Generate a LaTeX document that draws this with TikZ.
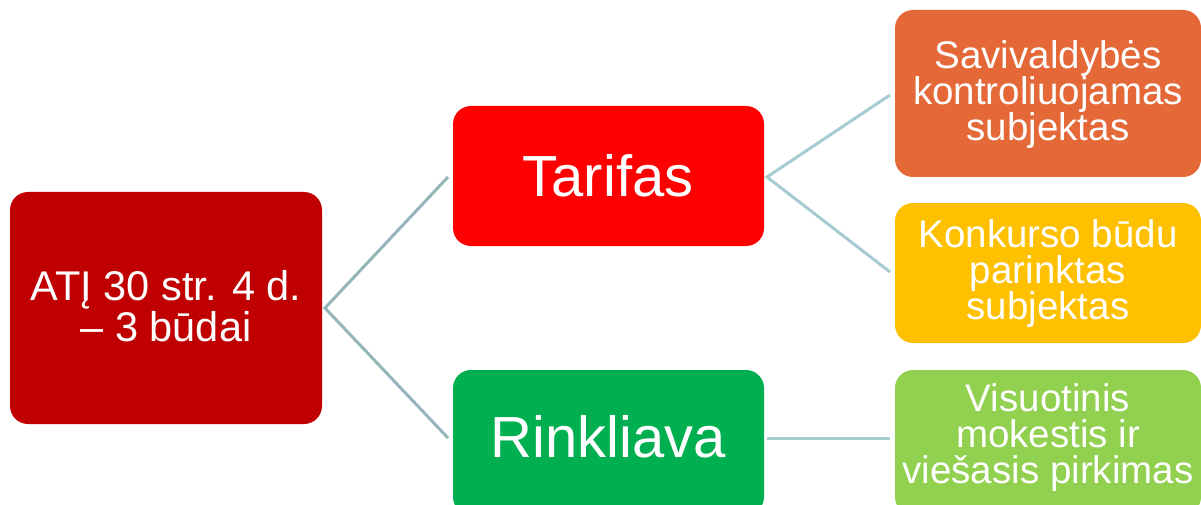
\documentclass[tikz,border=0pt]{standalone}
\usepackage{fontspec}
\setmainfont{Liberation Sans}
\begin{document}
\begin{tikzpicture}[x=1pt,y=-1pt,
  box/.style={rounded corners=18pt, inner sep=0pt},
  boxtext/.style={text=white, align=center, font=\fontsize{38.5}{36}\selectfont},
  link/.style={line width=3pt, draw=#1},
]
\definecolor{rootred}{RGB}{192,0,0}
\definecolor{tarifred}{RGB}{255,0,0}
\definecolor{rinkgreen}{RGB}{0,176,80}
\definecolor{savorange}{RGB}{228,104,56}
\definecolor{konkyellow}{RGB}{255,192,0}
\definecolor{visgreen}{RGB}{146,208,80}
\definecolor{linkA}{RGB}{148,182,186}
\definecolor{linkB}{RGB}{166,203,208}
\useasboundingbox (0,0) rectangle (1201,505);
\clip (0,0) rectangle (1201,505);

% boxes
\fill[box, rootred]    (10,192)  rectangle (322,424);
\fill[box, tarifred]   (453,106) rectangle (764,246);
\fill[box, rinkgreen]  (453,370) rectangle (764,515);
\fill[box, savorange]  (895,10)  rectangle (1201,177);
\fill[box, konkyellow] (895,203) rectangle (1201,343);
\fill[box, visgreen]   (895,370) rectangle (1201,515);

% labels
\node[boxtext, font=\fontsize{41.5}{41}\selectfont] (root) at (166,306) {ATĮ 30 str. 4 d.\\– 3 būdai};
\node[boxtext, font=\fontsize{58}{58}\selectfont] (tarifas) at (608,176) {Tarifas};
\node[boxtext, font=\fontsize{58}{58}\selectfont] (rinkliava) at (608,437) {Rinkliava};
\node[boxtext] (sav) at (1048,95) {Savivaldybės\\kontroliuojamas\\subjektas};
\node[boxtext] (konk) at (1048,274) {Konkurso būdu\\parinktas\\subjektas};
\node[boxtext] (vis) at (1048,438) {Visuotinis\\mokestis ir\\viešasis pirkimas};

% anchor points of the connectors
\coordinate (rootR) at (325,308);
\coordinate (tarL) at (448,177);
\coordinate (rinL) at (448,438);
\coordinate (tarR) at (767,177);
\coordinate (savL) at (890,95);
\coordinate (konL) at (890,272);
\coordinate (rinR) at (767,438);
\coordinate (visL) at (890,438);

% connectors
\draw[link=linkA] (tarL) -- (rootR) -- (rinL);
\draw[link=linkB] (savL) -- (tarR) -- (konL);
\draw[link=linkB] (rinR) -- (visL);
\end{tikzpicture}
\end{document}
